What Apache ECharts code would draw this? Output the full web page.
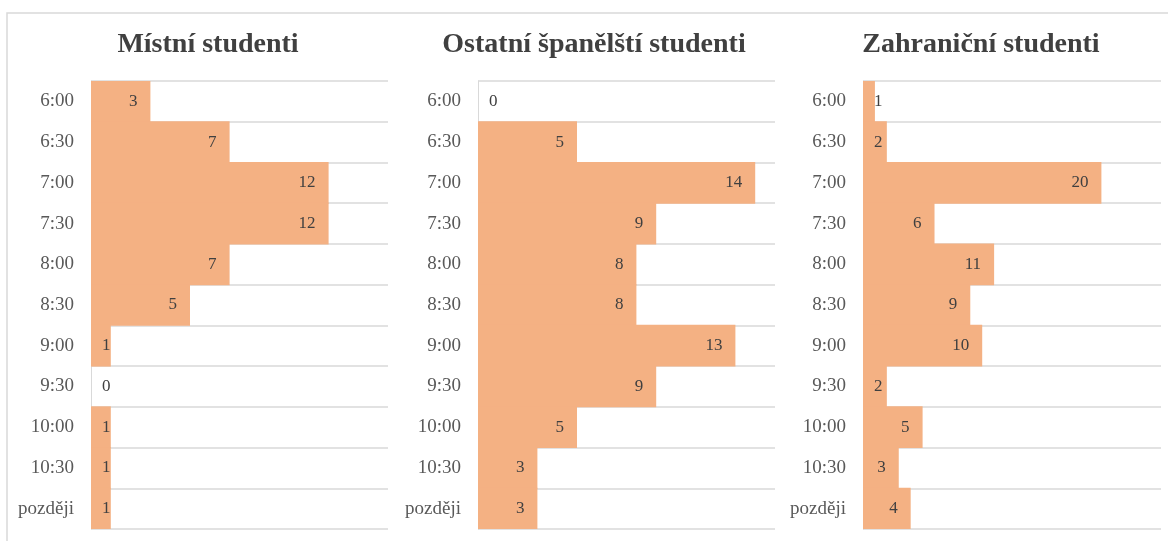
<!DOCTYPE html>
<html>
<head>
<meta charset="utf-8">
<script src="https://cdn.jsdelivr.net/npm/echarts@6/dist/echarts.min.js"></script>
<style>html,body{margin:0;padding:0;background:#fff}#c{width:1168px;height:541px}</style>
</head>
<body>
<div id="c"></div>
<script>
const categories = ['6:00','6:30','7:00','7:30','8:00','8:30','9:00','9:30','10:00','10:30','později'];
const titles = ['Místní studenti','Ostatní španělští studenti','Zahraniční studenti'];
const localStudents = [3,7,12,12,7,5,1,0,1,1,1];
const spanishStudents = [0,5,14,9,8,8,13,9,5,3,3];
const foreignStudents = [1,2,20,6,11,9,10,2,5,3,4];
const axisMax = [15,15,25];

const seriesData = [localStudents, spanishStudents, foreignStudents];
const gridLeft = [91, 478, 863];
const gridWidth = [297, 297, 298];
const gridHeight = 448;
const titleCenter = [203, 589, 976];
const FONT = 'Liberation Serif';
const BAR = '#F4B183';
const GRID = '#d9d9d9';

const grids = [], xAxes = [], yAxes = [], series = [], titleArr = [];
for (let i = 0; i < 3; i++) {
  grids.push({left: gridLeft[i], width: gridWidth[i], top: 81, height: gridHeight});
  xAxes.push({type: 'value', gridIndex: i, min: 0, max: axisMax[i], show: false, splitLine: {show: false}});
  yAxes.push({
    type: 'category', gridIndex: i, data: categories, inverse: true,
    axisLine: {show: true, lineStyle: {color: GRID, width: 1}},
    axisTick: {show: false},
    axisLabel: {color: '#595959', fontFamily: FONT, fontSize: 19, margin: 17},
    splitLine: {show: true, lineStyle: {color: GRID, width: 1.5}}
  });
  const pxPerUnit = gridWidth[i] / axisMax[i];
  series.push({
    type: 'bar', xAxisIndex: i, yAxisIndex: i,
    barWidth: gridHeight / categories.length + 1,
    itemStyle: {color: BAR},
    data: seriesData[i].map(v => {
      const small = v * pxPerUnit < 31;
      return {
        value: v,
        label: small ? {position: 'insideLeft', distance: 11} : {position: 'insideRight', distance: 13}
      };
    }),
    label: {show: true, color: '#404040', fontFamily: FONT, fontSize: 17},
    silent: true
  });
  titleArr.push({
    text: titles[i], left: titleCenter[i], top: 26, textAlign: 'center',
    textStyle: {fontFamily: FONT, fontSize: 28, fontWeight: 'bold', color: '#404040'}
  });
}

const chart = echarts.init(document.getElementById('c'), null, {renderer: 'canvas'});
chart.setOption({
  backgroundColor: '#fff',
  animation: false,
  title: titleArr,
  grid: grids,
  xAxis: xAxes,
  yAxis: yAxes,
  series: series,
  graphic: [{
    type: 'rect', shape: {x: 7, y: 13, width: 1175, height: 545},
    style: {fill: 'none', stroke: GRID, lineWidth: 1.5}, silent: true
  }]
});
</script>
</body>
</html>
